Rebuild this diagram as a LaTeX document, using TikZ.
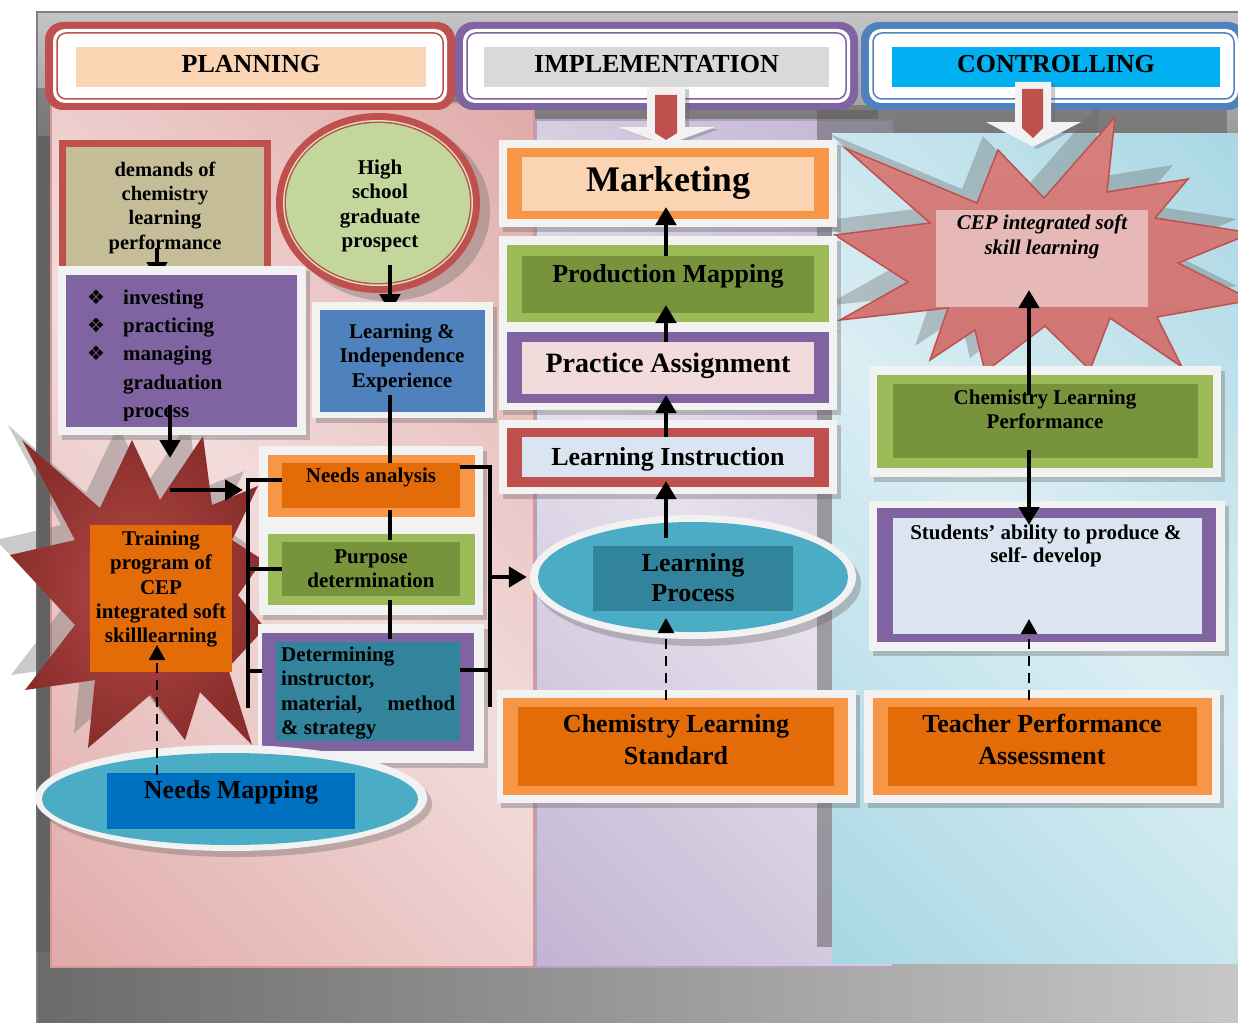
\documentclass[tikz,border=0pt]{standalone}
\usepackage{fontspec}
\setmainfont{Liberation Serif}
\newfontfamily\djv{DejaVu Sans}
\usetikzlibrary{arrows.meta,fit,calc,shapes.geometric}
\definecolor{cRed}{HTML}{C0504D}
\definecolor{cPurple}{HTML}{8064A2}
\definecolor{cBlue}{HTML}{4F81BD}
\definecolor{cCyan}{HTML}{00B0F0}
\definecolor{cPeach}{HTML}{FBD4B4}
\definecolor{cGrayBox}{HTML}{D9D9D9}
\definecolor{cOrange}{HTML}{F79646}
\definecolor{cDOrange}{HTML}{E36C09}
\definecolor{cLGreen}{HTML}{9BBB59}
\definecolor{cDGreen}{HTML}{77933C}
\definecolor{cPinkBox}{HTML}{F2DCDB}
\definecolor{cLBlue}{HTML}{DBE5F1}
\definecolor{cTan}{HTML}{C4BD97}
\definecolor{cHSGreen}{HTML}{C3D69B}
\definecolor{cHSRing}{HTML}{D7E4BD}
\definecolor{cTeal}{HTML}{31849B}
\definecolor{cAqua}{HTML}{4BACC6}
\definecolor{cNavy}{HTML}{0070C0}
\definecolor{cFrame}{HTML}{F2F2F2}
\definecolor{cCEPbox}{HTML}{E6B9B8}
\definecolor{pkD}{HTML}{D99694}
\definecolor{pkL}{HTML}{F2DCDB}
\definecolor{puD}{HTML}{B3A2C7}
\definecolor{puL}{HTML}{E5E0EC}
\definecolor{cyD}{HTML}{93CDDD}
\definecolor{cyL}{HTML}{DBEEF4}
\definecolor{bgD}{HTML}{6B6B6B}
\definecolor{bgL}{HTML}{C8C8C8}
\definecolor{bgT}{HTML}{C4C4C4}
\definecolor{bgM}{HTML}{9A9A9A}
\definecolor{trL}{HTML}{B54A47}
\definecolor{trD}{HTML}{8A2E2C}
\definecolor{cepT}{HTML}{D6807E}
\definecolor{cepB}{HTML}{D07573}
\pgfdeclarehorizontalshading{pinkR}{100bp}{color(0bp)=(pkD); color(50bp)=(pkL); color(100bp)=(pkD)}
\pgfdeclarehorizontalshading{purR}{100bp}{color(0bp)=(puD); color(50bp)=(puL); color(100bp)=(puD)}
\pgfdeclarehorizontalshading{cyR}{100bp}{color(0bp)=(cyD); color(50bp)=(cyL); color(100bp)=(cyD)}
\newcommand\fl{\rule{0pt}{0.75em}}
\newcommand\cepstar[1]{\path[#1] (845,148) -- (977,203) -- (998,150) -- (1044,198) -- (1115,117) -- (1107,192) -- (1188,179) -- (1155,218) -- (1252,233) -- (1178,263) -- (1252,300) -- (1157,317) -- (1182,367) -- (1110,318) -- (1090,370) -- (1045,326) -- (985,372) -- (975,330) -- (930,360) -- (948,308) -- (840,320) -- (908,282) -- (835,235) -- (930,223) -- cycle;}
\newcommand\trstar[1]{\path[#1] (22,440) -- (100,508) -- (132,440) -- (160,500) -- (203,436) -- (212,505) -- (258,486) -- (232,540) -- (263,560) -- (238,595) -- (265,628) -- (228,668) -- (252,745) -- (200,692) -- (185,740) -- (150,695) -- (88,748) -- (95,680) -- (25,690) -- (75,625) -- (10,555) -- (75,540) -- cycle;}
\begin{document}
\begin{tikzpicture}[x=1pt,y=-1pt,
 chk/.style={fill=black!65, opacity=0.5},
 chs/.style={fill=black!60, opacity=0.35},
 bx/.style={inner sep=0pt, outer sep=0pt},
 arr/.style={line width=4.5pt, -{Triangle[width=20pt,length=18pt]}},
 darr/.style={line width=2.5pt, dash pattern=on 10pt off 7pt, -{Triangle[width=16pt,length=15pt]}},
 conn/.style={line width=4.5pt, line join=miter},
 t21/.style={inner sep=0pt, align=center, anchor=north, font=\bfseries\fontsize{21}{24.4}\selectfont},
 t26/.style={inner sep=0pt, align=center, anchor=north, font=\bfseries\fontsize{26}{32}\selectfont},
 one/.style={inner sep=0pt, anchor=base},
 hdr/.style={inner sep=0pt, anchor=base, font=\bfseries\fontsize{26}{30}\selectfont},
]
\useasboundingbox (0,0) rectangle (1238,1022);
\clip (0,0) rectangle (1238,1022);
% ---------- background frame
\shade[left color=bgD, right color=bgL] (37,12) rectangle (1250,1030);
\shade[top color=bgT, bottom color=bgM] (37,12) rectangle (1250,135);
\draw[line width=2.5pt, black!50] (37,1030) -- (37,12) -- (1250,12);
% ---------- panels
\fill[chk] (521,105) rectangle (878,952);
\shade[shading=purR, shading angle=45] (536,120) rectangle (893,967);
\draw[puD, line width=1.2pt] (536,120) rectangle (893,967);
\fill[chk] (36,88) rectangle (519,952);
\shade[shading=pinkR, shading angle=45] (51,103) rectangle (534,967);
\draw[pkD, line width=1.2pt] (51,103) rectangle (534,967);
\fill[chk] (817,110) rectangle (1227,947);
\shade[shading=cyR, shading angle=45] (832,133) rectangle (1250,963);
% ---------- stars
\cepstar{chs, shift={(-15,-14)}}
\cepstar{draw=cRed, line width=1.5pt, top color=cepT, middle color=cRed, bottom color=cepB}
\trstar{chs, shift={(-14,-15)}}
\trstar{inner color=trL, outer color=trD}
% ---------- headers
\fill[cRed, rounded corners=18pt] (45,22) rectangle (455,110);
\fill[white, rounded corners=12pt] (53,29) rectangle (447,103);
\draw[cRed, line width=1.5pt, rounded corners=9pt] (57,33) rectangle (443,99);
\node[bx, fill=cPeach, fit={(76,47) (426,87)}] (hp) {};
\node[hdr] (tPlan) at (251,73) {PLANNING};
\fill[cPurple, rounded corners=18pt] (455,22) rectangle (858,110);
\fill[white, rounded corners=12pt] (463,29) rectangle (850,103);
\draw[cPurple, line width=1.5pt, rounded corners=9pt] (467,33) rectangle (846,99);
\node[bx, fill=cGrayBox, fit={(484,47) (829,87)}] (hi) {};
\node[hdr] (tImpl) at (656.5,73) {IMPLEMENTATION};
\fill[cBlue, rounded corners=18pt] (861,22) rectangle (1246,110);
\fill[white, rounded corners=12pt] (869,29) rectangle (1238,103);
\draw[cBlue, line width=1.5pt, rounded corners=9pt] (873,33) rectangle (1234,99);
\node[bx, fill=cCyan, fit={(892,47) (1220,87)}] (hc) {};
\node[hdr] (tCtrl) at (1056,73) {CONTROLLING};
% header block arrows
\fill[chs] (651,89) -- (689,89) -- (689,129) -- (719,129) -- (670,147) -- (622,129) -- (651,129) -- cycle;
\fill[cFrame] (647,87) -- (685,87) -- (685,127) -- (715,127) -- (666,145) -- (618,127) -- (647,127) -- cycle;
\fill[cRed] (655,95) -- (677,95) -- (677,133) -- (666,140) -- (655,133) -- cycle;
\fill[chs] (1019,84) -- (1055,84) -- (1055,124) -- (1085,124) -- (1037,149) -- (990,124) -- (1019,124) -- cycle;
\fill[cFrame] (1015,82) -- (1051,82) -- (1051,122) -- (1081,122) -- (1033,147) -- (986,122) -- (1015,122) -- cycle;
\fill[cRed] (1022,89) -- (1043,89) -- (1043,128) -- (1033,138) -- (1022,128) -- cycle;
% ---------- named x positions of connectors
\coordinate (xa) at (666,0);
\coordinate (xc) at (1029,0);
\coordinate (xd) at (157,0);
\coordinate (xh) at (390,0);
\coordinate (xt) at (170,0);
\coordinate (bl1) at (248,480);
\coordinate (bl2) at (248,708);
\coordinate (bl3) at (248,671);
\coordinate (br1) at (490,467);
\coordinate (br2) at (490,707);
\coordinate (br3) at (490,670);
\coordinate (brm) at (490,577);
% ---------- PLANNING column
\fill[cRed] (59,140) rectangle (271,275);
\node[bx, fill=cTan, fit={(66,147) (264,266)}] (dm) {};
\node[inner sep=0pt, align=center, anchor=north, font=\bfseries\fontsize{20.5}{24.3}\selectfont] (tDm) at (165,160.6) {\fl demands of\\chemistry\\learning\\performance};
\draw[arr] ($(dm.south -| xd)+(0,-18)$) -- ($(dm.south -| xd)+(0,14)$);
\fill[chs] (62,271) rectangle (310,440);
\fill[cFrame] (58,266) rectangle (306,435);
\node[bx, fill=cPurple, fit={(66,275) (297,427)}] (lst) {};
\begin{scope}
\clip (60,268) rectangle (300,420);
\node[inner sep=0pt, align=left, anchor=north west, font=\bfseries\fontsize{21}{28.3}\selectfont] (tLs) at (123,288.25) {\fl investing\\practicing\\managing\\graduation\\process};
\end{scope}
\node[one, font=\djv\fontsize{20}{20}\selectfont] (b1) at (96,304) {❖};
\node[one, font=\djv\fontsize{20}{20}\selectfont] (b2) at (96,332.3) {❖};
\node[one, font=\djv\fontsize{20}{20}\selectfont] (b3) at (96,360.6) {❖};
% high school circle
\fill[chs] (388,211) ellipse [x radius=102pt, y radius=90pt];
\node[ellipse, fill=cRed, minimum width=204pt, minimum height=180pt, inner sep=0pt] (hs) at (378,203) {};
\fill[cHSRing] (hs.center) ellipse [x radius=95pt, y radius=83pt];
\fill[cRed] (hs.center) ellipse [x radius=93.5pt, y radius=81.5pt];
\fill[cHSGreen] (hs.center) ellipse [x radius=92pt, y radius=80pt];
\node[t21] (tHs) at (380,158.3) {\fl High\\school\\graduate\\prospect};
\draw[arr] ($(hs.south -| xh)+(0,-28)$) -- ($(hs.south -| xh)+(0,19)$);
% learning & independence
\fill[chs] (316,307) rectangle (497,423);
\fill[cFrame] (312,302) rectangle (493,418);
\node[bx, fill=cBlue, fit={(320,310) (485,412)}] (li2) {};
\node[t21] (tLi) at (402,322.25) {\fl Learning \&\\Independence\\Experience};
% needs analysis + purpose
\fill[chs] (263,451) rectangle (487,620);
\fill[cFrame] (259,446) rectangle (483,615);
\fill[cOrange] (268,455) rectangle (475,517);
\node[bx, fill=cDOrange, fit={(282,463) (460,508)}] (na) {};
\fill[cLGreen] (268,534) rectangle (475,605);
\node[bx, fill=cDGreen, fit={(282,542) (460,596)}] (pd) {};
\node[one, font=\bfseries\fontsize{21}{24}\selectfont] (tNa) at (371,482) {Needs analysis};
\node[t21] (tPd) at (371,547.25) {\fl Purpose\\determination};
% determining
\fill[chs] (262,629) rectangle (488,768);
\fill[cFrame] (258,624) rectangle (484,763);
\node[bx, fill=cPurple, fit={(262,633) (474,751)}] (detp) {};
\node[bx, fill=cTeal, fit={(276,642) (460,741)}] (det) {};
\node[inner sep=0pt, align=left, anchor=north west, font=\bfseries\fontsize{21}{24.4}\selectfont] (tDet) at (281,645.25) {\fl Determining\\instructor,\\\makebox[174pt][s]{material,\hfill method}\\\& strategy};
% training box
\node[bx, fill=cDOrange, fit={(90,525) (232,672)}] (tr) {};
\node[t21] (tTr) at (161,529.25) {\fl Training\\program of\\CEP\\integrated soft\\skilllearning};
% needs mapping ellipse
\fill[chs] (236,804) ellipse [x radius=196pt, y radius=53pt];
\node[ellipse, fill=cFrame, minimum width=392pt, minimum height=106pt, inner sep=0pt] (nme) at (231,798) {};
\node[ellipse, fill=cAqua, minimum width=376pt, minimum height=92pt, inner sep=0pt] (nmc) at (230,799) {};
\node[bx, fill=cNavy, fit={(107,773) (355,829)}] (nmb) {};
\node[one, font=\bfseries\fontsize{26}{30}\selectfont] (tNm) at (231,798) {Needs Mapping};
% planning connectors
\draw[arr] ($(lst.south -| xt)+(0,-22)$) -- ($(tr.north -| xt)+(0,-67)$);
\draw[arr] ($(tr.north -| xt)+(0,-35)$) -- ($(bl1)+(-5,10)$);
\draw[conn] ($(li2.south -| xh)+(0,-17)$) -- (na.north -| xh);
\draw[conn] ($(na.south -| xh)+(0,2)$) -- ($(pd.north -| xh)+(0,-2)$);
\draw[conn] ($(pd.south -| xh)+(0,4)$) -- ($(det.north -| xh)+(0,-3)$);
\draw[conn] (na.west |- bl1) -- (bl1) -- (bl2);
\draw[conn] (pd.west) -- (pd.west -| bl1);
\draw[conn] (bl3) -- (detp.west |- bl3);
\draw[conn] (na.east |- br1) -- (br1) -- (br2);
\draw[conn] (det.east |- br3) -- (br3);
\draw[darr] ($(nmb.north -| xd)+(0,2)$) -- ($(tr.south -| xd)+(0,-27)$);
% ---------- IMPLEMENTATION column
\fill[chs] (503,145) rectangle (841,232);
\fill[cFrame] (499,140) rectangle (837,227);
\fill[cOrange] (507,148) rectangle (829,219);
\node[bx, fill=cPeach, fit={(522,157) (814,211)}] (mk) {};
\node[one, font=\bfseries\fontsize{36}{40}\selectfont] (tMk) at (668,191) {Marketing};
\fill[chs] (503,241) rectangle (841,332);
\fill[cFrame] (499,236) rectangle (837,327);
\fill[cLGreen] (507,245) rectangle (829,322);
\node[bx, fill=cDGreen, fit={(522,256) (814,313)}] (pm) {};
\node[one, font=\bfseries\fontsize{26}{30}\selectfont] (tPm) at (668,282) {Production Mapping};
\fill[chs] (503,331) rectangle (841,415);
\fill[cFrame] (499,326) rectangle (837,410);
\fill[cPurple] (507,332) rectangle (829,403);
\node[bx, fill=cPinkBox, fit={(522,342) (814,394)}] (pa) {};
\node[one, font=\bfseries\fontsize{28}{32}\selectfont] (tPa) at (668,372) {Practice Assignment};
\fill[chs] (503,425) rectangle (841,499);
\fill[cFrame] (499,420) rectangle (837,494);
\fill[cRed] (507,428) rectangle (829,487);
\node[bx, fill=cLBlue, fit={(522,437) (814,477)}] (li) {};
\node[one, font=\bfseries\fontsize{26}{30}\selectfont] (tLi2) at (668,465) {Learning Instruction};
% learning process
\fill[chs] (698,584) ellipse [x radius=163pt, y radius=62pt];
\node[ellipse, fill=cFrame, minimum width=326pt, minimum height=124pt, inner sep=0pt] (lpe) at (693,577) {};
\node[ellipse, fill=cAqua, minimum width=310pt, minimum height=110pt, inner sep=0pt] (lpc) at (693,577) {};
\node[bx, fill=cTeal, fit={(593,546) (793,611)}] (lpb) {};
\node[inner sep=0pt, align=center, anchor=north, font=\bfseries\fontsize{26}{30}\selectfont] (tLp) at (693,551.5) {\fl Learning\\Process};
% chemistry learning standard
\fill[chs] (501,695) rectangle (860,808);
\fill[cFrame] (497,690) rectangle (856,803);
\fill[cOrange] (503,698) rectangle (848,795);
\node[bx, fill=cDOrange, fit={(518,707) (834,786)}] (cs) {};
\node[t26] (tCs) at (676,712.5) {\fl Chemistry Learning\\Standard};
% implementation connectors
\draw[arr] (pm.north -| xa) -- ($(mk.south -| xa)+(0,-4)$);
\draw[arr] (pa.north -| xa) -- ($(pm.south -| xa)+(0,-8)$);
\draw[arr] (li.north -| xa) -- ($(pa.south -| xa)+(0,1)$);
\draw[arr] ($(lpb.north -| xa)+(0,-8)$) -- ($(li.south -| xa)+(0,4)$);
\draw[darr] ($(cs.north -| xa)+(0,-7)$) -- ($(lpb.south -| xa)+(0,7)$);
\draw[arr] (brm) -- ($(lpe.west)+(-3,0)$);
% ---------- CONTROLLING column
\node[bx, fill=cCEPbox, fit={(936,210) (1148,307)}] (cep) {};
\node[inner sep=0pt, align=center, anchor=north, font=\bfseries\itshape\fontsize{21}{25}\selectfont] (tCep) at (1042,213.25) {\fl CEP integrated soft\\skill learning};
\fill[chs] (874,371) rectangle (1225,482);
\fill[cFrame] (870,366) rectangle (1221,477);
\fill[cLGreen] (877,375) rectangle (1213,468);
\node[bx, fill=cDGreen, fit={(893,384) (1198,458)}] (clp) {};
\node[inner sep=0pt, align=center, anchor=north, font=\bfseries\fontsize{21}{24}\selectfont] (tClp) at (1045,388.25) {\fl Chemistry Learning\\Performance};
\fill[chs] (873,506) rectangle (1229,656);
\fill[cFrame] (869,501) rectangle (1225,651);
\fill[cPurple] (877,508) rectangle (1216,642);
\node[bx, fill=cLBlue, fit={(893,518) (1202,634)}] (st) {};
\node[inner sep=0pt, align=center, anchor=north, font=\bfseries\fontsize{21}{23.5}\selectfont] (tSt) at (1046,523.25) {\fl Students’ ability to produce \&\\self- develop};
\fill[chs] (868,695) rectangle (1224,808);
\fill[cFrame] (864,690) rectangle (1220,803);
\fill[cOrange] (873,698) rectangle (1212,795);
\node[bx, fill=cDOrange, fit={(888,707) (1197,786)}] (tp) {};
\node[t26] (tTp) at (1042,712.5) {\fl Teacher Performance\\Assessment};
% controlling connectors
\draw[arr] ($(clp.north -| xc)+(0,11)$) -- ($(cep.south -| xc)+(0,-17)$);
\draw[arr] ($(clp.south -| xc)+(0,-8)$) -- ($(st.north -| xc)+(0,7)$);
\draw[darr] ($(tp.north -| xc)+(0,-7)$) -- ($(st.south -| xc)+(0,-15)$);
\end{tikzpicture}
\end{document}
